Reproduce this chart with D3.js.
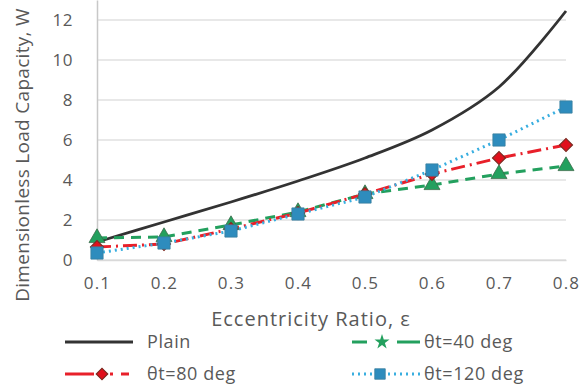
<!DOCTYPE html>
<html>
<head>
<meta charset="utf-8">
<script src="https://cdn.jsdelivr.net/npm/d3@7"></script>
<style>
  body { margin: 0; background: #fff; }
  text { font-family: "Open Sans", sans-serif; fill: #595959; }
</style>
</head>
<body>
<div id="chart"></div>
<script>
// the data
const ecc = [0.1, 0.2, 0.3, 0.4, 0.5, 0.6, 0.7, 0.8];
const plain = [0.9, 1.9, 2.9, 3.95, 5.1, 6.5, 8.65, 12.45];
const theta40 = [1.1, 1.15, 1.75, 2.4, 3.3, 3.75, 4.3, 4.7];
const theta80 = [0.65, 0.8, 1.55, 2.35, 3.3, 4.3, 5.1, 5.75];
const theta120 = [0.35, 0.85, 1.45, 2.3, 3.15, 4.5, 6.0, 7.65];
const yTicks = [0, 2, 4, 6, 8, 10, 12];

let svgWidth = 587, svgHeight = 388;
let margin = { top: 0, left: 97, right: 21, bottom: 128 };

let svg = d3.select("#chart").append("svg")
    .attr("width", svgWidth)
    .attr("height", svgHeight);

let x = d3.scaleLinear().domain([0.1, 0.8]).range([margin.left, svgWidth - margin.right]);
let y = d3.scaleLinear().domain([0, 13]).range([svgHeight - margin.bottom, svgHeight - margin.bottom - 260]);

// gridlines
svg.append("g")
    .selectAll("line")
    .data(yTicks)
    .enter()
    .append("line")
    .attr("x1", x(0.1))
    .attr("x2", x(0.8))
    .attr("y1", d => y(d))
    .attr("y2", d => y(d))
    .attr("stroke", "#e0e0e0")
    .attr("stroke-width", 1.5);

// y axis
let leftAxis = d3.axisLeft(y).tickValues(yTicks).tickSize(0).tickPadding(24);
let gy = svg.append("g")
    .attr("transform", `translate(${x(0.1)},0)`)
    .call(leftAxis);
gy.select(".domain").attr("stroke", "#c8c8c8").attr("stroke-width", 1.5);
gy.selectAll("text").style("font-size", "17px").style("letter-spacing", "0.5px").attr("fill", "#666");

// x axis
let bottomAxis = d3.axisBottom(x).tickValues(ecc).tickSize(0).tickPadding(17).tickFormat(d3.format(".1f"));
let gx = svg.append("g")
    .attr("transform", `translate(0,${y(0)})`)
    .call(bottomAxis);
gx.select(".domain").attr("stroke", "#d9d9d9").attr("stroke-width", 1.5);
gx.selectAll("text").style("font-size", "17px").style("letter-spacing", "1.2px").attr("fill", "#666");

// axis titles
svg.append("text")
    .attr("x", 311)
    .attr("y", 326)
    .attr("text-anchor", "middle")
    .style("font-size", "20px")
    .style("letter-spacing", "1px")
    .text("Eccentricity Ratio, ε");

svg.append("text")
    .attr("transform", `translate(29,155) rotate(-90)`)
    .attr("text-anchor", "middle")
    .style("font-size", "19px")
    .style("letter-spacing", "0.3px")
    .text("Dimensionless Load Capacity, W");

let series = [
    { name: "Plain", values: plain, color: "#333333", dash: null, width: 2.8, marker: null },
    { name: "θt=40 deg", values: theta40, color: "#23a05e", dash: "10,7", width: 3, marker: "triangle" },
    { name: "θt=80 deg", values: theta80, color: "#e8202a", dash: "14,5,2,5", width: 3, marker: "diamond" },
    { name: "θt=120 deg", values: theta120, color: "#38aee0", dash: "2,4", width: 3, marker: "square" }
];

let markerFill = { triangle: "#23a05e", diamond: "#e0101c", square: "#2e8cbd" };

function drawMarker(g, type, cx, cy, size) {
    if (type === "triangle") {
        g.append("path")
            .attr("d", d3.symbol().type(d3.symbolTriangle).size(size)())
            .attr("transform", `translate(${cx},${cy})`)
            .attr("fill", markerFill.triangle)
            .attr("stroke", "#3b6b4a")
            .attr("stroke-width", 0.8);
    } else if (type === "star") {
        g.append("path")
            .attr("d", d3.symbol().type(d3.symbolStar).size(size)())
            .attr("transform", `translate(${cx},${cy})`)
            .attr("fill", markerFill.triangle);
    } else if (type === "diamond") {
        g.append("path")
            .attr("d", d3.symbol().type(d3.symbolSquare).size(size * 0.6)())
            .attr("transform", `translate(${cx},${cy}) rotate(45)`)
            .attr("fill", markerFill.diamond)
            .attr("stroke", "#7a2a20")
            .attr("stroke-width", 1.2);
    } else if (type === "square") {
        g.append("path")
            .attr("d", d3.symbol().type(d3.symbolSquare).size(size)())
            .attr("transform", `translate(${cx},${cy})`)
            .attr("fill", markerFill.square)
            .attr("stroke", "#3a7f9e")
            .attr("stroke-width", 0.8);
    }
}

let plotG = svg.append("g");

series.forEach(s => {
    let line = d3.line()
        .x((d, i) => x(ecc[i]))
        .y(d => y(d))
        .curve(s.marker ? d3.curveLinear : d3.curveCatmullRom);
    plotG.append("path")
        .datum(s.values)
        .attr("d", line)
        .attr("fill", "none")
        .attr("stroke", s.color)
        .attr("stroke-width", s.width)
        .attr("stroke-dasharray", s.dash);
});

let markerSize = { triangle: 110, diamond: 140, square: 150 };
series.forEach(s => {
    if (!s.marker) return;
    s.values.forEach((v, i) => drawMarker(plotG, s.marker, x(ecc[i]), y(v), markerSize[s.marker]));
});

// legend
let legendItems = [
    { s: series[0], lx: 65, ly: 342, tx: 147, dash: null, mx: null },
    { s: series[1], lx: 352, ly: 342, tx: 424, dash: "15,30,25", mx: 382, mk: "star" },
    { s: series[2], lx: 65, ly: 374, tx: 147, dash: "36,9,3,8,8,60", mx: 102, mk: "diamond" },
    { s: series[3], lx: 352, ly: 374, tx: 424, dash: "2,4", mx: 380, mk: "square" }
];

legendItems.forEach(item => {
    let s = item.s;
    let g = svg.append("g");
    g.append("line")
        .attr("x1", item.lx)
        .attr("x2", item.lx + 68)
        .attr("y1", item.ly)
        .attr("y2", item.ly)
        .attr("stroke", s.color)
        .attr("stroke-width", s.width)
        .attr("stroke-dasharray", item.dash);
    if (item.mk) {
        g.append("rect")
            .attr("x", item.mx - 8)
            .attr("y", item.ly - 8)
            .attr("width", 16)
            .attr("height", 16)
            .attr("fill", "#fff");
        drawMarker(g, item.mk, item.mx, item.ly, item.mk === "star" ? 70 : 110);
    }
    g.append("text")
        .attr("x", item.tx)
        .attr("y", item.ly + 6)
        .style("font-size", "18px")
        .style("letter-spacing", "0.6px")
        .text(s.name);
});
</script>
</body>
</html>
